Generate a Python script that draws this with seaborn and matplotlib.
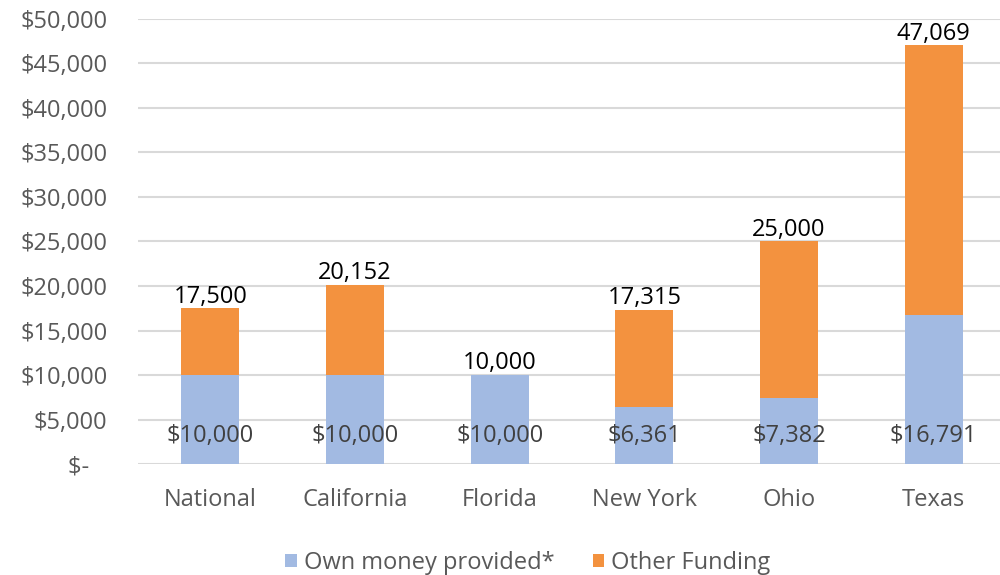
import matplotlib
matplotlib.use("Agg")
import matplotlib.pyplot as plt
from matplotlib.patches import Patch
from matplotlib.ticker import FixedLocator
import numpy as np
import pandas as pd
import seaborn as sns

# Funding per project by region
regions = ["National", "California", "Florida", "New York", "Ohio", "Texas"]
own_money = [10000, 10000, 10000, 6361, 7382, 16791]
other_funding = [7500, 10152, 0, 10954, 17618, 30278]
y_ticks = [0, 5000, 10000, 15000, 20000, 25000, 30000, 35000, 40000, 45000, 50000]
y_tick_labels = ["$-   ", "$5,000", "$10,000", "$15,000", "$20,000", "$25,000",
                 "$30,000", "$35,000", "$40,000", "$45,000", "$50,000"]

BLUE = "#A2BAE2"
ORANGE = "#F3923F"

sns.set_theme(style="white")
plt.rcParams["font.family"] = ["Open Sans", "DejaVu Sans"]

df = pd.DataFrame({"region": regions, "own": own_money, "other": other_funding})
df["total"] = df["own"] + df["other"]

fig = plt.figure(figsize=(10, 5.75), dpi=100)
ax = fig.add_axes([0.138, 0.193, 0.868, 0.774])

# Stacked bars: full total in orange, own share drawn over it in blue
sns.barplot(data=df, x="region", y="total", color=ORANGE, width=0.4,
            saturation=1, errorbar=None, ax=ax, zorder=2, linewidth=0)
sns.barplot(data=df, x="region", y="own", color=BLUE, width=0.4,
            saturation=1, errorbar=None, ax=ax, zorder=3, linewidth=0)

ax.set_ylim(0, 50000)
ax.set_xlim(-0.5, len(regions) - 0.5)
ax.yaxis.set_major_locator(FixedLocator(y_ticks))
ax.set_yticklabels(y_tick_labels)
ax.set_xlabel("")
ax.set_ylabel("")
ax.yaxis.grid(True, color="#D9D9D9", linewidth=1.5)
ax.set_axisbelow(True)
for s in ax.spines.values():
    s.set_visible(False)
ax.tick_params(axis="y", length=0, pad=22, labelcolor="#595959", labelsize=17)
ax.tick_params(axis="x", length=0, pad=17, labelcolor="#595959", labelsize=17)

# Value labels
for i, row in df.iterrows():
    ax.annotate(f"{row['total']:,}", xy=(i, row["total"]), xytext=(0, 4),
                textcoords="offset points", ha="center", va="baseline",
                fontsize=17, color="#000000", zorder=5)
    ax.annotate(f"${row['own']:,}", xy=(i, 0), xytext=(0, 20),
                textcoords="offset points", ha="center", va="center",
                fontsize=17, color="#404040", zorder=5)

handles = [Patch(facecolor=BLUE, edgecolor="none", label="Own money provided*"),
           Patch(facecolor=ORANGE, edgecolor="none", label="Other Funding")]
leg = fig.legend(handles=handles, loc="center", bbox_to_anchor=(0.528, 0.021),
                 ncol=2, frameon=False, fontsize=17, handlelength=0.5,
                 handleheight=0.5, handletextpad=0.3, columnspacing=1.6)
for t in leg.get_texts():
    t.set_color("#595959")

fig.savefig("out.png", dpi=100)
